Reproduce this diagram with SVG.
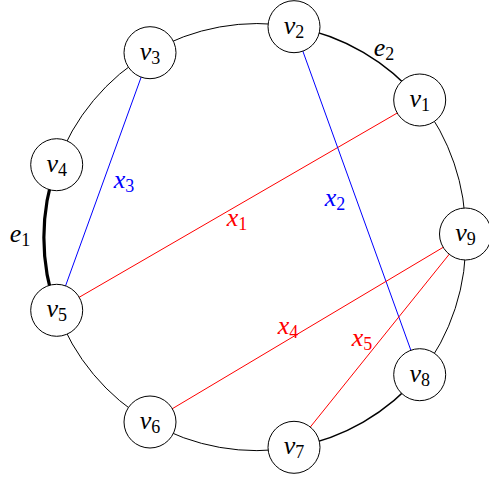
<svg xmlns="http://www.w3.org/2000/svg" width="489" height="477" viewBox="0 0 489 477">
<style>
.ring{fill:none;stroke:#000;stroke-width:1}
.semi{stroke-width:1.5}
.ult{stroke-width:3.2}
.red{stroke:#ff0000;stroke-width:1}
.blue{stroke:#0000ff;stroke-width:1}
.node circle{fill:#fff;stroke:#000;stroke-width:1}
text{font-family:"Liberation Serif","DejaVu Serif",serif;font-style:italic;font-size:26px;text-anchor:middle}
.sub{font-style:normal;font-size:18px}
.lr{fill:#ff0000}
.lb{fill:#0000ff}
</style>
<rect width="489" height="477" fill="#fff"/>
<g id="connectors">
<path class="ring semi" d="M294,26.7 A213,213 0 0 1 419.7,100"/>
<path class="ring" d="M419.7,100 A213,213 0 0 1 465.5,234"/>
<path class="ring" d="M465.5,234 A213,213 0 0 1 419.7,374.7"/>
<path class="ring semi" d="M419.7,374.7 A213,213 0 0 1 294,447.3"/>
<path class="ring" d="M294,447.3 A213,213 0 0 1 150,422"/>
<path class="ring" d="M150,422 A213,213 0 0 1 56.7,310.3"/>
<path class="ring ult" d="M56.7,310.3 A213,213 0 0 1 56.7,164.7"/>
<path class="ring" d="M56.7,164.7 A213,213 0 0 1 150,52.7"/>
<path class="ring" d="M150,52.7 A213,213 0 0 1 294,26.7"/>
<line class="red" x1="419.7" y1="100" x2="56.7" y2="310.3"/>
<line class="blue" x1="294" y1="26.7" x2="419.7" y2="374.7"/>
<line class="blue" x1="150" y1="52.7" x2="56.7" y2="310.3"/>
<line class="red" x1="465.5" y1="234" x2="150" y2="422"/>
<line class="red" x1="465.5" y1="234" x2="294" y2="447.3"/>
</g>
<g id="labels">
<text class="lr" x="237" y="226">x<tspan class="sub" dy="4">1</tspan></text>
<text class="lb" x="335" y="206">x<tspan class="sub" dy="4">2</tspan></text>
<text class="lb" x="124" y="188">x<tspan class="sub" dy="4">3</tspan></text>
<text class="lr" x="288" y="334">x<tspan class="sub" dy="4">4</tspan></text>
<text class="lr" x="362" y="346">x<tspan class="sub" dy="4">5</tspan></text>
<text x="20" y="242">e<tspan class="sub" dy="4">1</tspan></text>
<text x="384" y="56">e<tspan class="sub" dy="4">2</tspan></text>
</g>
<g id="v1" class="node"><circle cx="419.7" cy="100" r="26"/><text x="419.7" y="107">v<tspan class="sub" dy="4">1</tspan></text></g>
<g id="v2" class="node"><circle cx="294" cy="26.7" r="26"/><text x="294" y="33.7">v<tspan class="sub" dy="4">2</tspan></text></g>
<g id="v3" class="node"><circle cx="150" cy="52.7" r="26"/><text x="150" y="59.7">v<tspan class="sub" dy="4">3</tspan></text></g>
<g id="v4" class="node"><circle cx="56.7" cy="164.7" r="26"/><text x="56.7" y="171.7">v<tspan class="sub" dy="4">4</tspan></text></g>
<g id="v5" class="node"><circle cx="56.7" cy="310.3" r="26"/><text x="56.7" y="317.3">v<tspan class="sub" dy="4">5</tspan></text></g>
<g id="v6" class="node"><circle cx="150" cy="422" r="26"/><text x="150" y="429">v<tspan class="sub" dy="4">6</tspan></text></g>
<g id="v7" class="node"><circle cx="294" cy="447.3" r="26"/><text x="294" y="454.3">v<tspan class="sub" dy="4">7</tspan></text></g>
<g id="v8" class="node"><circle cx="419.7" cy="374.7" r="26"/><text x="419.7" y="381.7">v<tspan class="sub" dy="4">8</tspan></text></g>
<g id="v9" class="node"><circle cx="465.5" cy="234" r="26"/><text x="465.5" y="241">v<tspan class="sub" dy="4">9</tspan></text></g>
</svg>
